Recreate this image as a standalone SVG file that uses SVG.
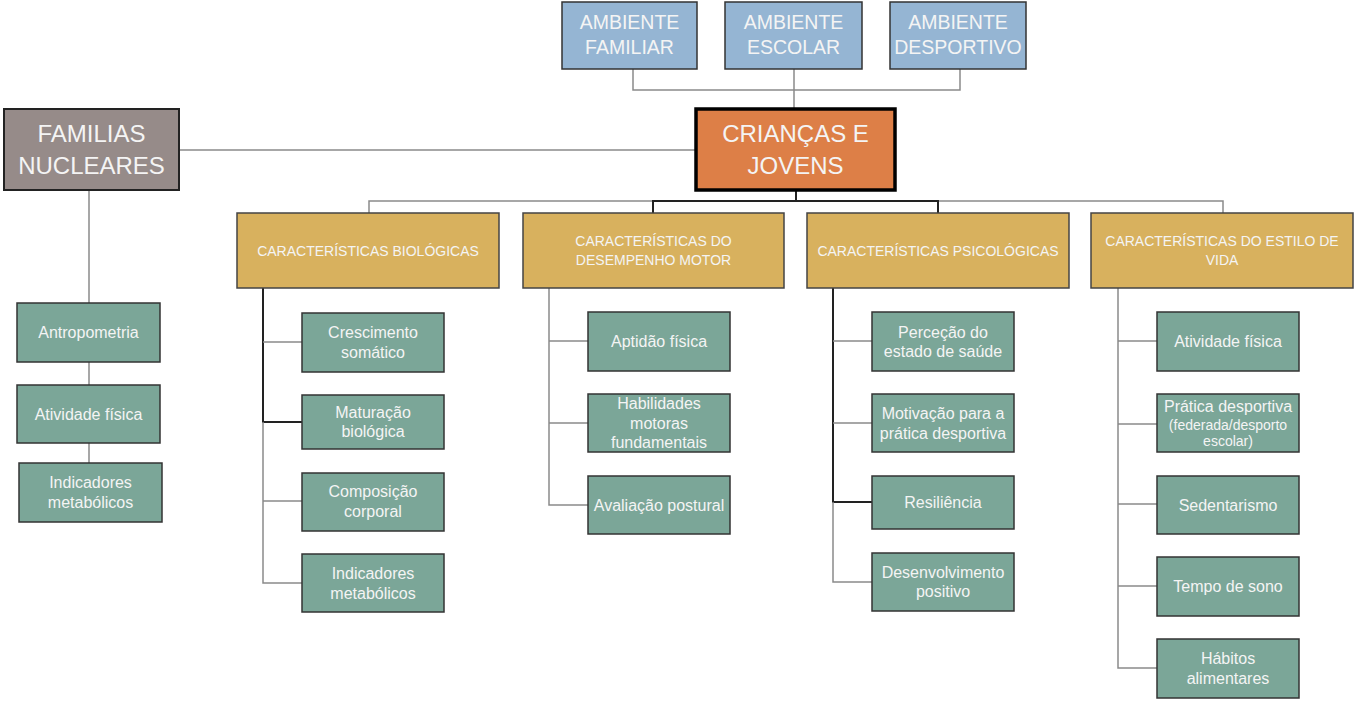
<svg xmlns="http://www.w3.org/2000/svg" width="1354" height="721" viewBox="0 0 1354 721">
<style>
text{font-family:"Liberation Sans",Arial,sans-serif;fill:#F4F4F4;text-anchor:middle;dominant-baseline:central}
.env rect{fill:#95B5D3;stroke:#333;stroke-width:1.5}
.env text{font-size:19.5px}
.core rect{fill:#DD7F47;stroke:#000;stroke-width:3.5}
.core text{font-size:24px}
.fam rect{fill:#968B89;stroke:#222;stroke-width:2}
.fam text{font-size:24px}
.cat rect{fill:#D8B15E;stroke:#444;stroke-width:1.5}
.cat text{font-size:14px}
.leaf rect{fill:#7BA698;stroke:#333;stroke-width:1.5}
.leaf text{font-size:16px}
.leaf text.sm{font-size:14px}
.c{fill:none;stroke:#8A8A8A;stroke-width:1.5}
.d{fill:none;stroke:#222;stroke-width:2}
</style>
<g id="connectors">
<path class="c" d="M633 69V90H960V69M794 69V108"/>
<path class="c" d="M180 150H695"/>
<path class="c" d="M89 191V303M89 362V385M89 443V463"/>
<path class="c" d="M369 213V201H653M938 201H1223V213"/>
<path class="d" d="M796 191V201M653 213V201H938V213"/>
<path class="d" d="M263 288V422H302"/>
<path class="c" d="M263 342H302M263 422V583H302M263 501H302"/>
<path class="c" d="M549 288V505H588M549 341H588M549 423H588"/>
<path class="d" d="M833 288V502H872"/>
<path class="c" d="M833 341H872M833 423H872M833 502V582H872"/>
<path class="c" d="M1118 288V668H1157M1118 341H1157M1118 424H1157M1118 504H1157M1118 586H1157"/>
</g>
<g id="amb-familiar" class="env"><rect x="562" y="2" width="135" height="67"/><text x="629.5" y="22">AMBIENTE</text><text x="629.5" y="47">FAMILIAR</text></g>
<g id="amb-escolar" class="env"><rect x="725" y="2" width="137" height="67"/><text x="793.5" y="22">AMBIENTE</text><text x="793.5" y="47">ESCOLAR</text></g>
<g id="amb-desportivo" class="env"><rect x="890" y="2" width="136" height="67"/><text x="958" y="22">AMBIENTE</text><text x="958" y="47">DESPORTIVO</text></g>
<g id="criancas" class="core"><rect x="696" y="109" width="199" height="81"/><text x="795.5" y="133">CRIANÇAS E</text><text x="795.5" y="165">JOVENS</text></g>
<g id="familias" class="fam"><rect x="4" y="109" width="175" height="81"/><text x="91.5" y="133">FAMILIAS</text><text x="91.5" y="165">NUCLEARES</text></g>
<g id="fam-antropometria" class="leaf"><rect x="17" y="303" width="143" height="59"/><text x="88.5" y="332.5">Antropometria</text></g>
<g id="fam-atividade" class="leaf"><rect x="17" y="385" width="143" height="58"/><text x="88.5" y="414">Atividade física</text></g>
<g id="fam-indicadores" class="leaf"><rect x="19" y="463" width="143" height="59"/><text x="90.5" y="482.5">Indicadores</text><text x="90.5" y="502">metabólicos</text></g>
<g id="cat-bio" class="cat"><rect x="237" y="213" width="262" height="75"/><text x="368" y="250.5">CARACTERÍSTICAS BIOLÓGICAS</text></g>
<g id="cat-motor" class="cat"><rect x="523" y="213" width="261" height="75"/><text x="653.5" y="241">CARACTERÍSTICAS DO</text><text x="653.5" y="260">DESEMPENHO MOTOR</text></g>
<g id="cat-psico" class="cat"><rect x="807" y="213" width="262" height="75"/><text x="938" y="250.5">CARACTERÍSTICAS PSICOLÓGICAS</text></g>
<g id="cat-estilo" class="cat"><rect x="1091" y="213" width="262" height="75"/><text x="1222" y="241">CARACTERÍSTICAS DO ESTILO DE</text><text x="1222" y="260">VIDA</text></g>
<g id="bio-crescimento" class="leaf"><rect x="302" y="313" width="142" height="59"/><text x="373" y="332.5">Crescimento</text><text x="373" y="352">somático</text></g>
<g id="bio-maturacao" class="leaf"><rect x="302" y="395" width="142" height="54"/><text x="373" y="412">Maturação</text><text x="373" y="431.5">biológica</text></g>
<g id="bio-composicao" class="leaf"><rect x="302" y="473" width="142" height="58"/><text x="373" y="491.5">Composição</text><text x="373" y="511">corporal</text></g>
<g id="bio-indicadores" class="leaf"><rect x="302" y="554" width="142" height="58"/><text x="373" y="573.5">Indicadores</text><text x="373" y="593">metabólicos</text></g>
<g id="mot-aptidao" class="leaf"><rect x="588" y="312" width="142" height="59"/><text x="659" y="341">Aptidão física</text></g>
<g id="mot-habilidades" class="leaf"><rect x="588" y="394" width="142" height="58"/><text x="659" y="403.5">Habilidades</text><text x="659" y="423">motoras</text><text x="659" y="442.5">fundamentais</text></g>
<g id="mot-avaliacao" class="leaf"><rect x="588" y="476" width="142" height="58"/><text x="659" y="505">Avaliação postural</text></g>
<g id="psi-percecao" class="leaf"><rect x="872" y="312" width="142" height="59"/><text x="943" y="332">Perceção do</text><text x="943" y="351.5">estado de saúde</text></g>
<g id="psi-motivacao" class="leaf"><rect x="872" y="394" width="142" height="58"/><text x="943" y="413.5">Motivação para a</text><text x="943" y="433">prática desportiva</text></g>
<g id="psi-resiliencia" class="leaf"><rect x="872" y="476" width="142" height="53"/><text x="943" y="502">Resiliência</text></g>
<g id="psi-desenvolvimento" class="leaf"><rect x="872" y="553" width="142" height="58"/><text x="943" y="572">Desenvolvimento</text><text x="943" y="591.5">positivo</text></g>
<g id="est-atividade" class="leaf"><rect x="1157" y="312" width="142" height="59"/><text x="1228" y="341">Atividade física</text></g>
<g id="est-pratica" class="leaf"><rect x="1157" y="394" width="142" height="58"/><text x="1228" y="406.5">Prática desportiva</text><text class="sm" x="1228" y="424.5">(federada/desporto</text><text class="sm" x="1228" y="441">escolar)</text></g>
<g id="est-sedentarismo" class="leaf"><rect x="1157" y="476" width="142" height="58"/><text x="1228" y="505">Sedentarismo</text></g>
<g id="est-sono" class="leaf"><rect x="1157" y="557" width="142" height="59"/><text x="1228" y="586">Tempo de sono</text></g>
<g id="est-habitos" class="leaf"><rect x="1157" y="639" width="142" height="59"/><text x="1228" y="658.5">Hábitos</text><text x="1228" y="678">alimentares</text></g>
</svg>
